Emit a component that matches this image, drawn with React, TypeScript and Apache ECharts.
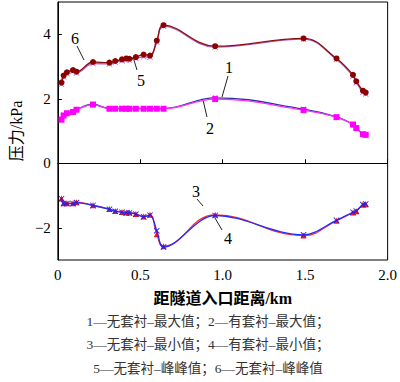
import React, { useEffect, useRef } from "react";
import * as echarts from "echarts";

const xs = [0.022, 0.035, 0.055, 0.092, 0.113, 0.213, 0.313, 0.348, 0.389, 0.415, 0.434, 0.473, 0.52, 0.559, 0.6, 0.641, 0.954, 1.49, 1.69, 1.79, 1.81, 1.85, 1.867];
const s1 = [1.37, 1.5, 1.56, 1.6, 1.67, 1.83, 1.7, 1.7, 1.7, 1.7, 1.7, 1.7, 1.7, 1.7, 1.7, 1.7, 2.03, 1.68, 1.44, 1.21, 1.1, 0.91, 0.88];
const s2 = [1.35, 1.48, 1.55, 1.59, 1.66, 1.82, 1.69, 1.69, 1.69, 1.69, 1.69, 1.69, 1.69, 1.69, 1.69, 1.69, 1.99, 1.65, 1.43, 1.2, 1.09, 0.9, 0.88];
const s3 = [-1.09, -1.24, -1.24, -1.24, -1.21, -1.3, -1.42, -1.48, -1.51, -1.53, -1.53, -1.57, -1.65, -1.6, -2.2, -2.57, -1.6, -2.24, -1.78, -1.53, -1.49, -1.29, -1.27];
const s4 = [-1.1, -1.25, -1.25, -1.25, -1.22, -1.31, -1.43, -1.49, -1.52, -1.54, -1.54, -1.58, -1.66, -1.61, -2.09, -2.6, -1.62, -2.22, -1.77, -1.52, -1.48, -1.28, -1.26];
const s5 = [2.45, 2.68, 2.78, 2.85, 2.8, 3.09, 3.08, 3.13, 3.18, 3.2, 3.2, 3.25, 3.3, 3.29, 3.76, 4.25, 3.6, 3.85, 3.22, 2.7, 2.5, 2.2, 2.15];
const s6 = [2.5, 2.72, 2.82, 2.89, 2.84, 3.14, 3.12, 3.17, 3.22, 3.25, 3.24, 3.29, 3.37, 3.34, 3.8, 4.28, 3.63, 3.87, 3.25, 2.74, 2.54, 2.25, 2.19];

const xTicks = ["0", "0.5", "1.0", "1.5", "2.0"];
const yTickValues = [-2, 0, 2, 4];
const legendLines = [
  "1—无套衬–最大值；2—有套衬–最大值；",
  "3—无套衬–最小值；4—有套衬–最小值；",
  "5—无套衬–峰峰值；6—无套衬–峰峰值",
];
const xTitle = "距隧道入口距离/km";
const yTitle = "压力/kPa";

const FONT = "Liberation Serif, Noto Sans CJK SC, serif";
const XMARK = "path://M0,1L1,0L5,4L9,0L10,1L6,5L10,9L9,10L5,6L1,10L0,9L4,5Z";

function pairs(ys: number[]) {
  return xs.map((x, i) => [x, ys[i]]);
}

export default function App() {
  const ref = useRef<HTMLDivElement>(null);
  useEffect(() => {
    document.body.style.margin = "0";
    const chart = echarts.init(ref.current!, null, { renderer: "svg" });
    const mk = (name: string, ys: number[], color: string, lineColor: string, symbol: string, size: number, z: number, smooth: number) => ({
      name,
      type: "line",
      data: pairs(ys),
      smooth,
      symbol,
      symbolSize: size,
      z,
      lineStyle: { color: lineColor, width: 1.3 },
      itemStyle: { color },
    });
    const annot = (t: string, x: number, y: number, x1: number, y1: number, x2: number, y2: number) => [
      { type: "text", x, y, style: { text: t, fontSize: 16, fontFamily: FONT, fill: "#000", align: "center", verticalAlign: "middle" } },
      { type: "line", shape: { x1, y1, x2, y2 }, style: { stroke: "#222", lineWidth: 1 } },
    ];
    chart.setOption({
      animation: false,
      grid: { left: 50, right: 9, top: 2, bottom: 122, show: true, borderColor: "#000", borderWidth: 1, backgroundColor: "transparent" },
      xAxis: {
        type: "value",
        min: 0,
        max: 2,
        interval: 0.5,
        axisLine: { lineStyle: { color: "#000" } },
        axisTick: { inside: true, length: 4, lineStyle: { color: "#000" } },
        splitLine: { show: false },
        axisLabel: { color: "#000", fontSize: 15, fontFamily: FONT, margin: 7, formatter: (v: number) => xTicks[Math.round(v / 0.5)] },
        name: xTitle,
        nameLocation: "middle",
        nameGap: 30,
        nameTextStyle: { color: "#000", fontSize: 16, fontWeight: "bold", fontFamily: FONT },
      },
      yAxis: {
        type: "value",
        min: -3,
        max: 5,
        axisLine: { lineStyle: { color: "#000" } },
        axisTick: { inside: true, length: 4, lineStyle: { color: "#000" }, customValues: yTickValues },
        splitLine: { show: false },
        axisLabel: { color: "#000", fontSize: 15, fontFamily: FONT, margin: 7, customValues: yTickValues, formatter: (v: number) => (v < 0 ? "−" + Math.abs(v) : String(v)) },
        name: yTitle,
        nameLocation: "middle",
        nameGap: 32,
        nameTextStyle: { color: "#000", fontSize: 16, fontFamily: FONT },
      },
      series: [
        mk("5", s5, "#d070e0", "#b060c0", XMARK, 6, 3, 0.4),
        mk("6", s6, "#8b0000", "#8b1010", "circle", 6, 4, 0.4),
        mk("1", s1, "#2a2a90", "#3030a0", XMARK, 5, 3, 0.4),
        mk("2", s2, "#ff00ff", "#ff30ff", "rect", 6, 4, 0.4),
        mk("3", s3, "#ff1010", "#ff3030", "triangle", 6, 3, 0.45),
        mk("4", s4, "#2020e0", "#2a2aff", XMARK, 6, 4, 0.35),
      ],
      graphic: [
        ...annot("6", 75, 38, 77, 46, 84, 60),
        ...annot("5", 141, 80, 133, 57, 137, 70),
        ...annot("1", 229, 67, 228, 76, 222, 97),
        ...annot("2", 210, 128, 203, 100, 207, 117),
        ...annot("3", 196, 191, 197, 199, 203, 206),
        ...annot("4", 228, 238, 215, 218, 222, 230),
        ...legendLines.map((t, i) => ({
          type: "text",
          x: 208,
          y: 321 + i * 23.5,
          style: { text: t, fontSize: 13.5, fontFamily: FONT, fill: "#333", align: "center", verticalAlign: "middle" },
        })),
      ],
    });
    return () => chart.dispose();
  }, []);
  return <div ref={ref} style={{ width: 400, height: 382 }} />;
}
